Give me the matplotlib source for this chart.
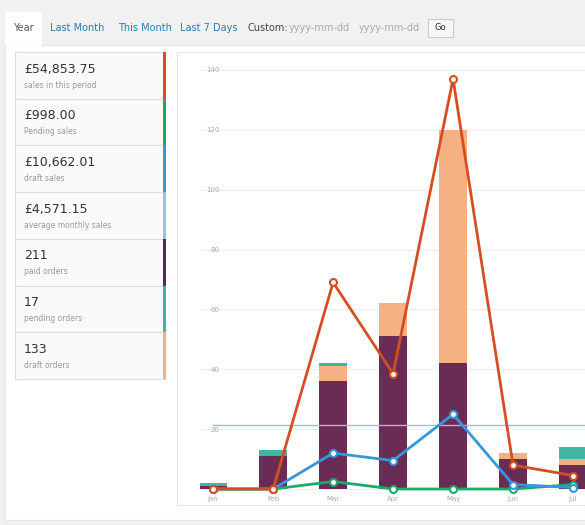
import numpy as np
import matplotlib.pyplot as plt
from matplotlib.patches import Rectangle

months = ['Jan', 'Feb', 'Mar', 'Apr', 'May', 'Jun', 'Jul']
paid = [1, 11, 36, 51, 42, 10, 8]
draft = [0, 0, 5, 11, 78, 2, 2]
pending = [1, 2, 1, 0, 0, 0, 4]
sales = [0, 0, 69, 38.5, 137, 8, 4.5]
draft_sales = [0, 0, 12, 9.5, 25, 1.5, 0.5]
pending_sales = [0, 0, 2.5, 0, 0, 0, 1.5]
avg_sales = 21.5

stats = [('£54,853.75', 'sales in this period', '#d54e21'),
         ('£998.00', 'Pending sales', '#1aab6a'),
         ('£10,662.01', 'draft sales', '#3498db'),
         ('£4,571.15', 'average monthly sales', '#8ec4ec'),
         ('211', 'paid orders', '#5e2750'),
         ('17', 'pending orders', '#3fb5a3'),
         ('133', 'draft orders', '#f5b183')]
tabs = ['Year', 'Last Month', 'This Month', 'Last 7 Days']

W, H = 585, 525
fig = plt.figure(figsize=(W / 100, H / 100), dpi=100)
fig.patch.set_facecolor('#f1f1f1')

def px(x, y):
    return x / W, 1 - y / H

def box(x0, y0, x1, y1, **kw):
    fig.patches.append(Rectangle(px(x0, y1), (x1 - x0) / W, (y1 - y0) / H,
                                 transform=fig.transFigure, zorder=-1, **kw))

# tabs row
tab_x = [5, 42, 110, 172]
for t, x in zip(tabs, tab_x):
    c = '#555555' if t == 'Year' else '#2a7ea8'
    fig.text(*px(x + 8, 28), t, fontsize=7, color=c, va='center')
fig.text(*px(247, 28), 'Custom:', fontsize=7, color='#444444', va='center')
fig.text(*px(289, 28), 'yyyy-mm-dd', fontsize=7, color='#aaaaaa', va='center')
fig.text(*px(359, 28), 'yyyy-mm-dd', fontsize=7, color='#aaaaaa', va='center')
box(428, 19, 453, 37, facecolor='#f7f7f7', edgecolor='#cccccc', lw=0.8)
fig.text(*px(440, 28), 'Go', fontsize=6, color='#333333', va='center', ha='center')
# white content background
box(5, 45, 585, 520, facecolor='white', edgecolor='#e5e5e5', lw=0.8)
box(5, 12, 42, 46, facecolor='white', lw=0)
# chart panel border
box(177, 52, 590, 505, facecolor='white', edgecolor='#e5e5e5', lw=0.8)

# stat boxes
for i, (val, lab, col) in enumerate(stats):
    top = 52 + i * 46.7
    box(15, top, 165, top + 46.7, facecolor='#fafafa', edgecolor='#dddddd', lw=0.8)
    box(163, top, 166, top + 46.7, facecolor=col, lw=0)
    fig.text(*px(24, top + 17), val, fontsize=9, color='#333333', va='center')
    fig.text(*px(24, top + 33), lab, fontsize=5.5, color='#999999', va='center')

# chart
l, b = px(200, 495)
ax = fig.add_axes([l, b, 1 - l, 440 / H])
ax.set_zorder(5)
ax.patch.set_alpha(0)
x = np.arange(len(months))
w = 0.47
ax.bar(x, paid, w, color='#6a2b55', zorder=2)
ax.bar(x, draft, w, bottom=paid, color='#f5b183', zorder=2)
ax.bar(x, pending, w, bottom=np.add(paid, draft), color='#3fb5a3', zorder=2)
ax.plot([0, 6.5], [avg_sales, avg_sales], color='#8ec4ec', lw=1, zorder=3)
for ys, c in ((pending_sales, '#1aab6a'), (draft_sales, '#3498db'), (sales, '#d54e21')):
    ax.plot(x, ys, color=c, lw=2, marker='o', ms=5, mfc='white', mec=c, mew=1.5, zorder=4)
ax.set_xlim(-0.22, 6.2)
ax.set_ylim(-2, 145)
ax.set_yticks(range(0, 141, 20))
ax.set_xticks(x)
ax.set_xticklabels(months)
ax.tick_params(length=0, labelsize=5, colors='#aaaaaa', pad=1)
ax.tick_params(axis='y', pad=-14)
ax.grid(axis='y', color='#eeeeee', lw=0.8, zorder=0)
for s in ax.spines.values():
    s.set_visible(False)

fig.savefig('out.png', dpi=100, facecolor=fig.get_facecolor())
